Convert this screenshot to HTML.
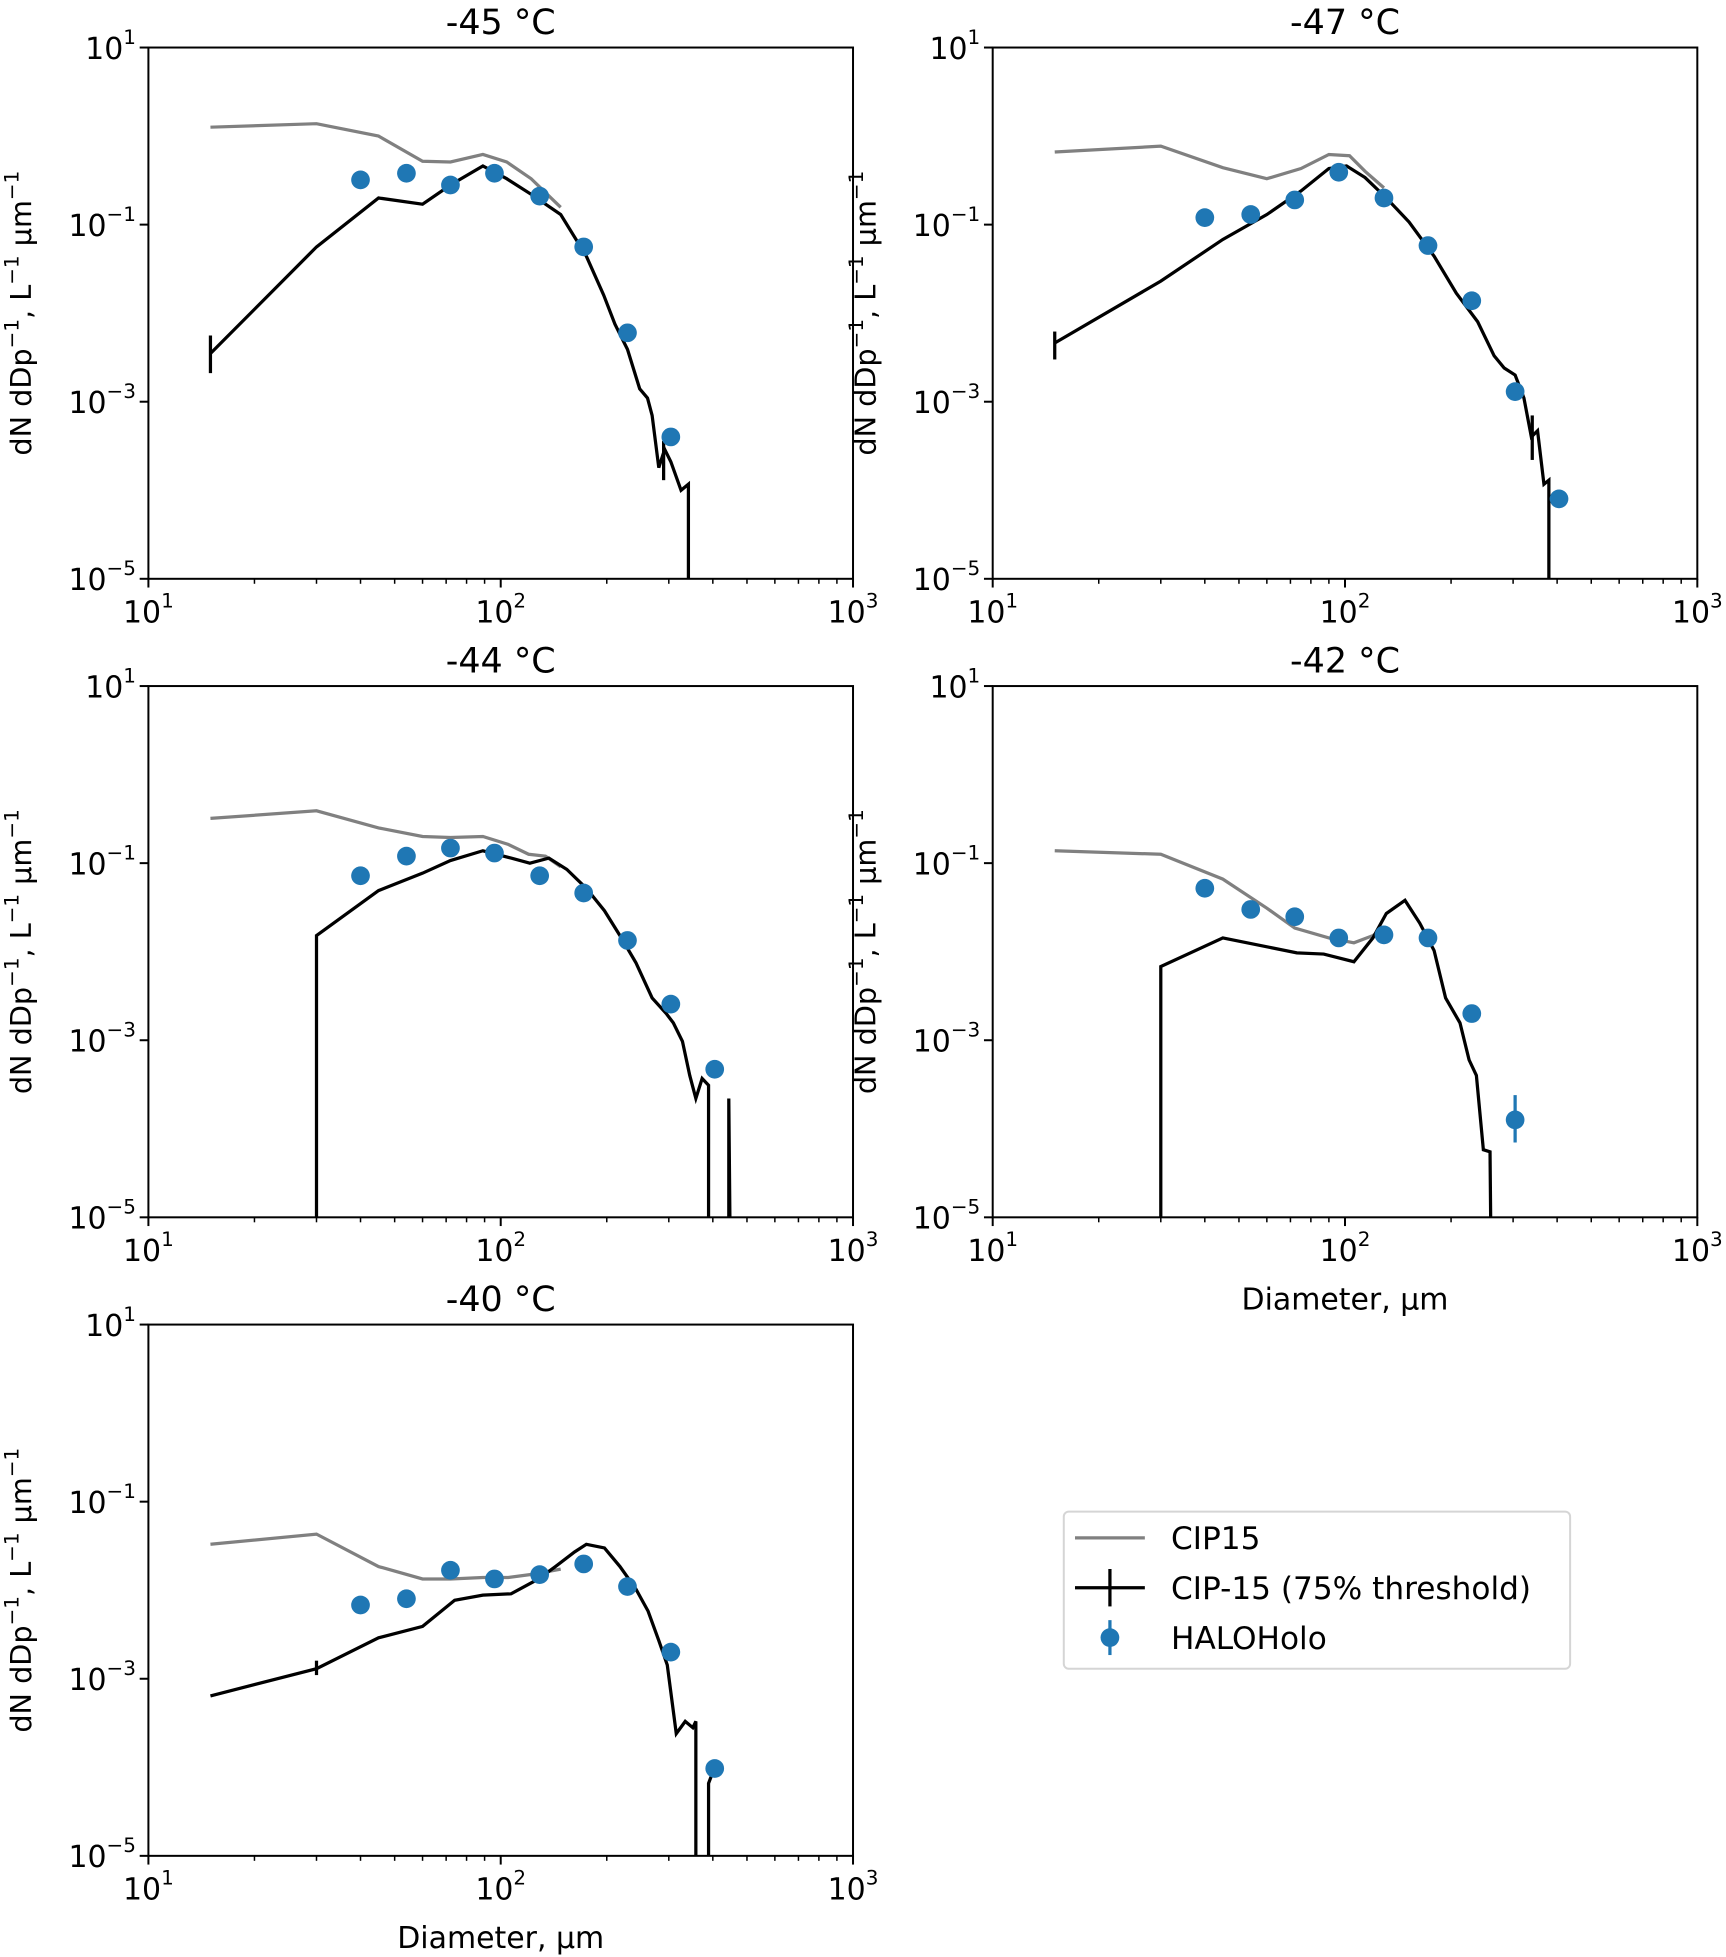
<!DOCTYPE html>
<html><head><meta charset="utf-8"><style>
html,body{margin:0;padding:0;background:#fff;}
svg{display:block;font-family:"DejaVu Sans","Liberation Sans",sans-serif;}
</style></head><body>
<svg id="fig" width="1726" height="1957" viewBox="0 0 1384 1569" xmlns="http://www.w3.org/2000/svg"></svg>
<script>
// ---- panel -45 ----
const p1GrayX=[15,30,45,60,72,89,104,122,148];
const p1GrayY=[1.26,1.38,1.0,0.52,0.51,0.62,0.51,0.33,0.157];
const p1BlackX=[15,30,45,60,72,89,104,122,148,175,196,211,229,248,261,269,281,292,304,325,341,341];
const p1BlackY=[0.0035,0.056,0.20,0.17,0.28,0.46,0.33,0.22,0.13,0.044,0.016,0.0075,0.0039,0.0014,0.0011,0.0007,0.00018,0.00029,0.00021,0.0001,0.000117,1e-7];
const p1PtX=[40,54,72,96,129,172,229,304];
const p1PtY=[0.32,0.38,0.28,0.38,0.21,0.056,0.006,0.0004];
// ---- panel -47 ----
const p2GrayX=[15,30,45,60,75,90,103,114,129];
const p2GrayY=[0.66,0.77,0.44,0.33,0.43,0.62,0.60,0.40,0.26];
const p2BlackX=[15,30,45,60,75,90,101,114,131,152,179,207,238,265,283,304,322,338,352,367,379,379];
const p2BlackY=[0.0046,0.023,0.068,0.13,0.24,0.43,0.46,0.34,0.20,0.107,0.044,0.0168,0.008,0.0033,0.0024,0.002,0.0011,0.0004,0.00047,0.000117,0.00013,1e-7];
const p2PtX=[40,54,72,96,129,172,229,304,405];
const p2PtY=[0.12,0.13,0.19,0.39,0.20,0.058,0.0138,0.0013,0.00008];
// ---- panel -44 ----
const p3GrayX=[15,30,45,60,72,89,105,120,134,148];
const p3GrayY=[0.32,0.39,0.25,0.20,0.195,0.20,0.163,0.126,0.12,0.091];
const p3BlackX=[30,30,45,60,72,89,107,121,137,154,175,197,218,242,269,295,309,328,344,358,373,389,389,444,444,452];
const p3BlackY=[1e-7,0.0152,0.049,0.077,0.107,0.138,0.114,0.10,0.114,0.085,0.052,0.029,0.0152,0.0075,0.003,0.002,0.00157,0.00097,0.0004,0.00022,0.00037,0.00031,1e-7,1e-7,0.00022,1e-7];
const p3PtX=[40,54,72,96,129,172,229,304,405];
const p3PtY=[0.072,0.12,0.148,0.13,0.072,0.046,0.0134,0.00256,0.00047];
// ---- panel -42 ----
const p4GrayX=[15,30,45,60,72,90,106,120,129];
const p4GrayY=[0.138,0.126,0.066,0.031,0.0185,0.0143,0.0126,0.0152,0.0185];
const p4BlackX=[30,30,45,73,87,106,120,131,148,163,179,193,212,225,236,247,258,262];
const p4BlackY=[1e-7,0.0068,0.0143,0.0097,0.0094,0.0077,0.0143,0.027,0.038,0.021,0.0103,0.003,0.00157,0.0006,0.0004,0.000058,0.000055,1e-7];
const p4PtX=[40,54,72,96,129,172,229,304];
const p4PtY=[0.052,0.030,0.0248,0.0143,0.0155,0.0143,0.002,0.000126];
// ---- panel -40 ----
const p5GrayX=[15,30,45,60,72,89,105,124,148];
const p5GrayY=[0.033,0.043,0.0185,0.0134,0.0134,0.0139,0.0139,0.0152,0.0173];
const p5BlackX=[15,30,45,60,74,89,107,128,143,162,175,197,218,242,262,281,297,315,334,351,358,358,389,389,405];
const p5BlackY=[0.00064,0.0013,0.0029,0.0039,0.0077,0.0088,0.0091,0.0134,0.0185,0.027,0.033,0.030,0.0185,0.0103,0.0058,0.0027,0.00143,0.00024,0.00033,0.00028,0.00033,1e-7,1e-7,0.000066,0.0001];
const p5PtX=[40,54,72,96,129,172,229,304,405];
const p5PtY=[0.0068,0.008,0.0168,0.0134,0.015,0.0198,0.011,0.002,0.000097];
// black-line error bars [x, lo, hi]
const p1ErrX=[15,290]; const p1ErrLo=[0.0021,0.00013]; const p1ErrHi=[0.0056,0.00036];
const p2ErrX=[15,340]; const p2ErrLo=[0.003,0.00022]; const p2ErrHi=[0.0062,0.0007];
const p5ErrX=[30]; const p5ErrLo=[0.0011]; const p5ErrHi=[0.0016];
const p4PtErrLo=[0,0,0,0,0,0,0,0.00007]; const p4PtErrHi=[0,0,0,0,0,0,0,0.00024];
const titles=["-45","-47","-44","-42","-40"];
const yTickExp=[1,-1,-3,-5];
const xTickExp=[1,2,3];

const NS="http://www.w3.org/2000/svg";
const svg=document.getElementById('fig');
function mk(tag,attrs,parent){const e=document.createElementNS(NS,tag);for(const k in attrs)e.setAttribute(k,attrs[k]);(parent||svg).appendChild(e);return e;}

const panels=[
 {x0:119,y0:38,gx:p1GrayX,gy:p1GrayY,bx:p1BlackX,by:p1BlackY,px:p1PtX,py:p1PtY,ex:p1ErrX,elo:p1ErrLo,ehi:p1ErrHi,xlab:false},
 {x0:796,y0:38,gx:p2GrayX,gy:p2GrayY,bx:p2BlackX,by:p2BlackY,px:p2PtX,py:p2PtY,ex:p2ErrX,elo:p2ErrLo,ehi:p2ErrHi,xlab:false},
 {x0:119,y0:550,gx:p3GrayX,gy:p3GrayY,bx:p3BlackX,by:p3BlackY,px:p3PtX,py:p3PtY,ex:[],elo:[],ehi:[],xlab:false},
 {x0:796,y0:550,gx:p4GrayX,gy:p4GrayY,bx:p4BlackX,by:p4BlackY,px:p4PtX,py:p4PtY,ex:[],elo:[],ehi:[],xlab:true,plo:p4PtErrLo,phi:p4PtErrHi},
 {x0:119,y0:1062,gx:p5GrayX,gy:p5GrayY,bx:p5BlackX,by:p5BlackY,px:p5PtX,py:p5PtY,ex:p5ErrX,elo:p5ErrLo,ehi:p5ErrHi,xlab:true}
];
const W=565,H=426;
panels.forEach((p,i)=>{
  const g=mk('g',{});
  
  
  const xs=v=>p.x0+(Math.log10(v)-1)/2*W;
  const ys=v=>p.y0+(1-Math.log10(v))/6*H;
  const cid='clip'+i;
  const cp=mk('clipPath',{id:cid},g);mk('rect',{x:p.x0,y:p.y0,width:W,height:H},cp);
  const t=mk('text',{x:p.x0+W/2,y:p.y0-11,'text-anchor':'middle','font-size':28,'xml:space':'preserve'},g);
  t.textContent=titles[i]+'  °C';
  
  
  const yl=mk('text',{transform:`translate(${p.x0-94},${p.y0+H/2}) rotate(-90)`,'text-anchor':'middle','font-size':23},g);
  yl.innerHTML='dN dDp<tspan dy="-10" font-size="16">−1</tspan><tspan dy="10">, L</tspan><tspan dy="-10" font-size="16">−1</tspan><tspan dy="10"> µm</tspan><tspan dy="-10" font-size="16">−1</tspan>';
  
  
  if(p.xlab){const xl=mk('text',{x:p.x0+W/2,y:p.y0+H+74,'text-anchor':'middle','font-size':24},g);xl.textContent='Diameter, µm';
    
    }
  const sg=mk('g',{'clip-path':`url(#${cid})`},g);
  const gp=mk('polyline',{points:p.gx.map((v,k)=>xs(v)+','+ys(p.gy[k])).join(' '),fill:'none',stroke:'#808080','stroke-width':2.6},sg);
  
  
  const bp=mk('polyline',{points:p.bx.map((v,k)=>xs(v)+','+ys(p.by[k])).join(' '),fill:'none',stroke:'#000','stroke-width':2.6},sg);
  
  
  p.ex.forEach((v,k)=>{const e=mk('line',{x1:xs(v),x2:xs(v),y1:ys(p.elo[k]),y2:ys(p.ehi[k]),stroke:'#000','stroke-width':2.6},sg);
    
    });
  p.px.forEach((v,k)=>{
    if(p.plo&&p.phi[k]>0){const e=mk('line',{x1:xs(v),x2:xs(v),y1:ys(p.plo[k]),y2:ys(p.phi[k]),stroke:'#1f77b4','stroke-width':2.6},sg);
      
      }
    const c=mk('circle',{cx:xs(v),cy:ys(p.py[k]),r:7.5,fill:'#1f77b4'},sg);
    
    
  });
  const fr=mk('rect',{x:p.x0,y:p.y0,width:W,height:H,fill:'none',stroke:'#000','stroke-width':1.6},g);
  
  
  yTickExp.forEach(e=>{const Y=ys(Math.pow(10,e));mk('line',{x1:p.x0-7,x2:p.x0,y1:Y,y2:Y,stroke:'#000','stroke-width':1.6},g);
    const tx=mk('text',{x:p.x0-10,y:Y+9,'text-anchor':'end','font-size':24},g);
    tx.innerHTML='10<tspan dy="-12" font-size="16">'+(e<0?'−'+(-e):e)+'</tspan>';
    
    });
  for(let d=1;d<=2;d++)for(let m=2;m<=9;m++){const X=xs(m*Math.pow(10,d));mk('line',{x1:X,x2:X,y1:p.y0+H,y2:p.y0+H+4,stroke:'#000','stroke-width':1.2},g);}
  xTickExp.forEach(e=>{const X=xs(Math.pow(10,e));mk('line',{x1:X,x2:X,y1:p.y0+H,y2:p.y0+H+7,stroke:'#000','stroke-width':1.6},g);
    const tx=mk('text',{x:X,y:p.y0+H+35,'text-anchor':'middle','font-size':24},g);
    tx.innerHTML='10<tspan dy="-12" font-size="16">'+e+'</tspan>';
    
    });
});
const lg=mk('g',{});


mk('rect',{x:853,y:1212,width:406,height:126,rx:4,fill:'#fff',stroke:'#d5d5d5','stroke-width':1.6},lg);
mk('line',{x1:862,x2:918,y1:1233,y2:1233,stroke:'#808080','stroke-width':2.6},lg);
mk('line',{x1:862,x2:918,y1:1273,y2:1273,stroke:'#000','stroke-width':2.6},lg);
mk('line',{x1:890,x2:890,y1:1258,y2:1288,stroke:'#000','stroke-width':2.6},lg);
mk('line',{x1:890,x2:890,y1:1299,y2:1327,stroke:'#1f77b4','stroke-width':2.6},lg);
mk('circle',{cx:890,cy:1313,r:7.5,fill:'#1f77b4'},lg);
[['CIP15',1233],['CIP-15 (75% threshold)',1273],['HALOHolo',1313]].forEach(([s,y])=>{
  const tx=mk('text',{x:939,y:y+9,'font-size':25},lg);tx.textContent=s;
  
  
});
</script>
</body></html>
